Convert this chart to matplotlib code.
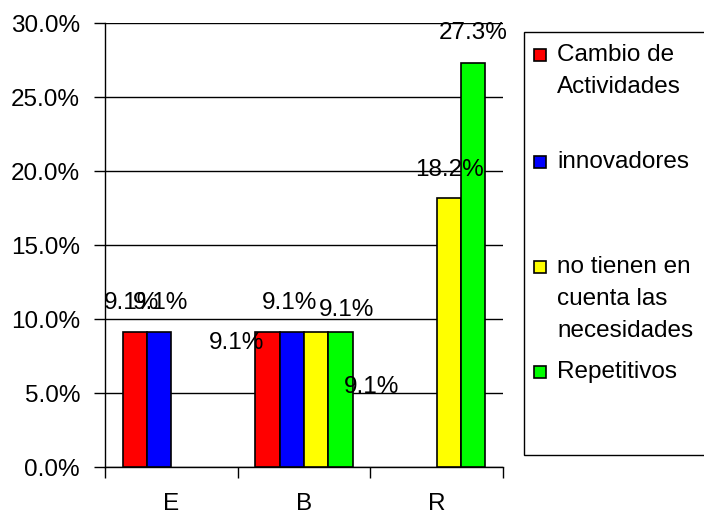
import numpy as np
import matplotlib
matplotlib.use("Agg")
import matplotlib.pyplot as plt
from matplotlib.patches import Rectangle
from matplotlib.ticker import FuncFormatter, FixedLocator

# ---- data ----
categories = ["E", "B", "R"]
series_names = ["Cambio de\nActividades", "innovadores",
                "no tienen en\ncuenta las\nnecesidades", "Repetitivos"]
cambio = [9.1, 9.1, np.nan]
innovadores = [9.1, 9.1, np.nan]
no_tienen = [np.nan, 9.1, 18.2]
repetitivos = [np.nan, 9.1, 27.3]
series_values = [cambio, innovadores, no_tienen, repetitivos]
y_ticks = [0, 5, 10, 15, 20, 25, 30]

# ---- style / layout ----
colors = ["#ff0000", "#0000ff", "#ffff00", "#00ff00"]
# label offsets in pixels (dx, dy) relative to bar top center, per series per category
label_offsets = [
    [(-3, 29), (-31, -11), None],
    [(1, 29), (-2, 29), None],
    [None, (30, 22), (1, 28)],
    [None, (31, -55), (0, 30)],
]

plt.rcParams['font.family'] = ['Liberation Sans', 'DejaVu Sans']
FS = 17.5

W, H = 704, 516
fig = plt.figure(figsize=(W / 100, H / 100), dpi=100)
ax = fig.add_axes([105 / W, 1 - 467 / H, (503 - 105) / W, (467 - 23) / H])

x = np.arange(len(categories))
bw = 0.183
n = len(series_values)
for i, vals in enumerate(series_values):
    pos = x + (i - (n - 1) / 2) * bw
    ax.bar(pos, vals, width=bw, color=colors[i], edgecolor="black",
           linewidth=1.2, zorder=3)
    for j, v in enumerate(vals):
        if np.isnan(v):
            continue
        off = label_offsets[i][j]
        ax.annotate(f"{v:.1f}%", xy=(pos[j], v), xytext=off,
                    textcoords="offset pixels", ha="center", va="center",
                    fontsize=FS, color="black", zorder=5,
                    annotation_clip=False)

ax.set_xlim(-0.5, len(categories) - 0.5)
ax.set_ylim(0, 30)
ax.yaxis.set_major_locator(FixedLocator(y_ticks))
ax.yaxis.set_major_formatter(FuncFormatter(lambda v, p: f"{v:.1f}%"))
ax.grid(axis="y", color="black", linewidth=1, zorder=0)
ax.set_axisbelow(True)

ax.set_xticks(np.arange(len(categories) + 1) - 0.5)
ax.set_xticklabels([])
ax.set_xticks(x, minor=True)
ax.set_xticklabels(categories, minor=True, fontsize=FS)
ax.tick_params(axis="x", which="major", length=8, width=1, direction="out")
ax.tick_params(axis="x", which="minor", length=0, pad=19)
ax.tick_params(axis="y", length=8, width=1, direction="out", pad=10,
               labelsize=FS)

for s in ["top", "right"]:
    ax.spines[s].set_visible(False)
for s in ["left", "bottom"]:
    ax.spines[s].set_color("black")
    ax.spines[s].set_linewidth(1)

# ---- legend (Excel-style box) ----
fig.patches.append(Rectangle((524 / W, 1 - 455 / H), (720 - 524) / W,
                             (455 - 32) / H, transform=fig.transFigure,
                             facecolor="white", edgecolor="black",
                             linewidth=1, zorder=1))
entry_y = [55, 162, 267, 372]
line_h = 32
for i, name in enumerate(series_names):
    y0 = entry_y[i]
    fig.patches.append(Rectangle((534 / W, 1 - (y0 + 6) / H), 12 / W, 12 / H,
                                 transform=fig.transFigure,
                                 facecolor=colors[i], edgecolor="black",
                                 linewidth=1.2, zorder=2))
    for k, line in enumerate(name.split("\n")):
        fig.text(557 / W, 1 - (y0 + k * line_h) / H, line, ha="left",
                 va="center", fontsize=FS, color="black")

fig.savefig("out.png", dpi=100, facecolor="white")
